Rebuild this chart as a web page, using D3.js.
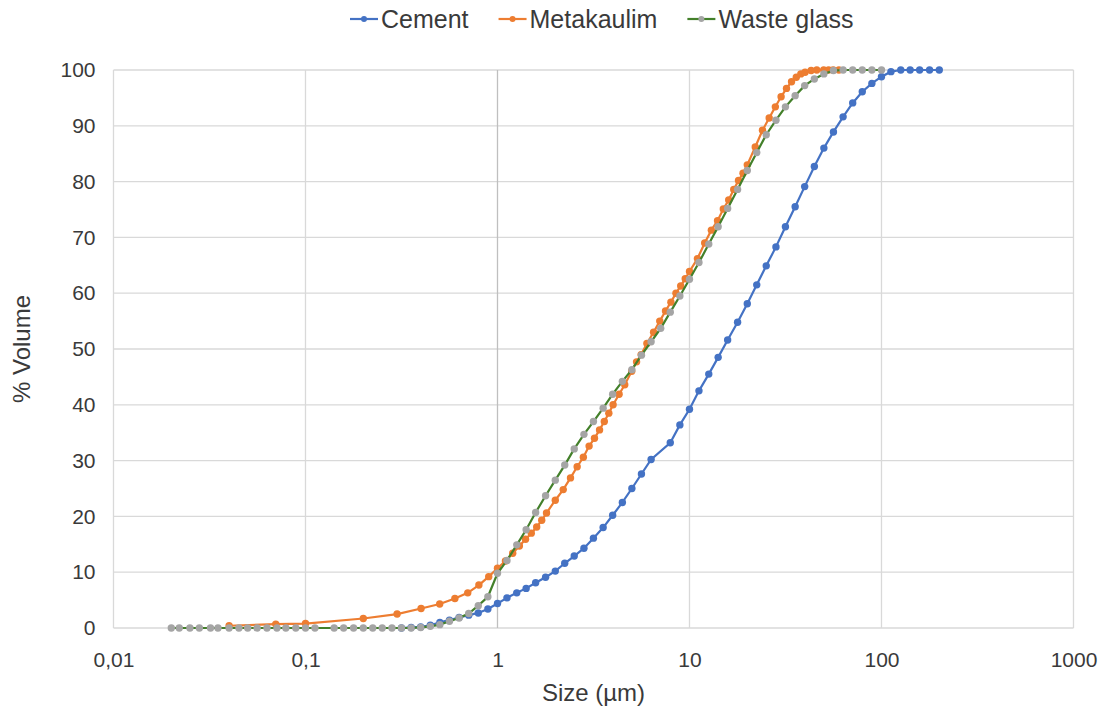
<!DOCTYPE html>
<html>
<head>
<meta charset="utf-8">
<script src="https://cdn.jsdelivr.net/npm/d3@7"></script>
<style>
  body { margin: 0; background: #fff; }
  text { font-family: "Liberation Sans", Arial, sans-serif; fill: #3a3a3a; }
</style>
</head>
<body>
<script>
// particle size (um) and cumulative % volume per material
var cementSize = [0.316, 0.355, 0.398, 0.447, 0.501, 0.562, 0.631, 0.708, 0.794, 0.891,
    1.00, 1.12, 1.26, 1.41, 1.58, 1.78, 2.00, 2.24, 2.51, 2.82, 3.16, 3.55, 3.98, 4.47, 5.01, 5.62, 6.31,
    7.94, 8.91, 10.0, 11.2, 12.6, 14.1, 15.8, 17.8, 20.0, 22.4, 25.1, 28.2, 31.6, 35.5, 39.8, 44.7,
    50.1, 56.2, 63.1, 70.8, 79.4, 89.1, 100, 112, 126, 141, 158, 178, 200];
var cementVol = [0.0, 0.1, 0.2, 0.5, 1.0, 1.4, 1.9, 2.3, 2.7, 3.4,
    4.4, 5.4, 6.3, 7.1, 8.1, 9.1, 10.2, 11.6, 12.9, 14.3, 16.1, 18.0, 20.2, 22.5, 25.0, 27.6, 30.2,
    33.2, 36.4, 39.2, 42.5, 45.5, 48.5, 51.6, 54.8, 58.1, 61.5, 64.9, 68.3, 71.9, 75.5, 79.1, 82.7,
    86.0, 88.9, 91.6, 94.1, 96.1, 97.6, 98.8, 99.7, 100, 100, 100, 100, 100];

var metaSize = [0.04, 0.07, 0.1, 0.2, 0.3, 0.4, 0.5, 0.6, 0.7, 0.8, 0.9,
    1.0, 1.1, 1.2, 1.3, 1.4, 1.5, 1.6, 1.7, 1.8, 2.0, 2.2, 2.4, 2.6, 2.8, 3.0, 3.2, 3.4, 3.6, 3.8,
    4.0, 4.3, 4.6, 5.0, 5.3, 5.6, 6.0, 6.5, 7.0, 7.5, 8.0, 8.5, 9.0, 9.5, 10, 11, 12, 13, 14, 15,
    16, 17, 18, 19, 20, 22, 24, 26, 28, 30, 32, 34, 36, 38, 40, 43, 46, 50, 53, 56, 60];
var metaVol = [0.4, 0.7, 0.8, 1.7, 2.5, 3.5, 4.3, 5.3, 6.3, 7.7, 9.2,
    10.7, 12.0, 13.4, 14.7, 15.9, 17.0, 18.1, 19.3, 20.6, 22.9, 24.8, 26.9, 28.9, 30.6, 32.6, 34.0, 35.5, 37.0, 38.5,
    40.0, 41.9, 43.6, 46.0, 47.7, 49.0, 51.0, 53.0, 55.0, 56.8, 58.4, 60.0, 61.3, 62.6, 63.9, 66.2, 69.0, 71.3, 73.0, 75.1,
    76.7, 78.6, 80.2, 81.5, 83.0, 86.2, 89.2, 91.4, 93.4, 95.2, 96.7, 97.9, 98.7, 99.3, 99.6, 99.9, 100, 100, 100, 100, 100];

var glassSize = [0.020, 0.022, 0.025, 0.028, 0.032, 0.035, 0.040, 0.045, 0.050, 0.056, 0.063, 0.071, 0.079, 0.089, 0.100, 0.112,
    0.141, 0.158, 0.178, 0.200, 0.224, 0.251, 0.282, 0.316, 0.355, 0.398, 0.447, 0.501, 0.562, 0.631, 0.708, 0.794, 0.891,
    1.00, 1.12, 1.26, 1.41, 1.58, 1.78, 2.00, 2.24, 2.51, 2.82, 3.16, 3.55, 3.98, 4.47, 5.01, 5.62, 6.31, 7.08, 7.94, 8.91,
    10.0, 11.2, 12.6, 14.1, 15.8, 17.8, 20.0, 22.4, 25.1, 28.2, 31.6, 35.5, 39.8, 44.7, 50.1, 56.2, 63.1, 70.8, 79.4, 89.1, 100];
var glassVol = [0, 0, 0, 0, 0, 0, 0, 0, 0, 0, 0, 0, 0, 0, 0, 0,
    0, 0, 0, 0, 0, 0, 0, 0, 0, 0.1, 0.3, 0.6, 1.2, 1.8, 2.6, 4.0, 5.6,
    9.8, 12.1, 14.9, 17.6, 20.7, 23.7, 26.5, 29.2, 32.1, 34.7, 37.0, 39.4, 41.9, 44.2, 46.3, 48.9, 51.3, 53.7, 56.6, 59.5,
    62.5, 65.5, 68.8, 71.9, 75.2, 78.6, 82.0, 85.2, 88.4, 91.0, 93.4, 95.4, 97.2, 98.4, 99.3, 99.9, 100, 100, 100, 100, 100];

var xTicks = [0.01, 0.1, 1, 10, 100, 1000];
var xTickLabels = ["0,01", "0,1", "1", "10", "100", "1000"];
var yTicks = [0, 10, 20, 30, 40, 50, 60, 70, 80, 90, 100];

var series = [
    {name: "Cement", size: cementSize, vol: cementVol, line: "#4472c4", dot: "#4472c4"},
    {name: "Metakaulim", size: metaSize, vol: metaVol, line: "#ed7d31", dot: "#ed7d31"},
    {name: "Waste glass", size: glassSize, vol: glassVol, line: "#43802a", dot: "#a5a5a5"}
];

var W = 1105, H = 717;
var margin = {top: 70, right: 31.5, bottom: 89, left: 113.5};

var svg = d3.select("body").append("svg")
    .attr("width", W)
    .attr("height", H);

var x = d3.scaleLog()
    .domain([0.01, 1000])
    .range([margin.left, W - margin.right]);
var y = d3.scaleLinear()
    .domain([0, 100])
    .range([H - margin.bottom, margin.top]);

// grid
svg.append("g").selectAll("line.h")
    .data(yTicks).enter()
    .append("line")
    .attr("x1", x(0.01)).attr("x2", x(1000))
    .attr("y1", function (d) { return y(d); })
    .attr("y2", function (d) { return y(d); })
    .attr("stroke", "#d9d9d9")
    .attr("stroke-width", 1.3);
svg.append("g").selectAll("line.v")
    .data(xTicks).enter()
    .append("line")
    .attr("x1", function (d) { return x(d); })
    .attr("x2", function (d) { return x(d); })
    .attr("y1", y(0)).attr("y2", y(100))
    .attr("stroke", function (d) { return d === 1 ? "#bfbfbf" : "#d9d9d9"; })
    .attr("stroke-width", 1.3);

// axes (labels only)
var xAxis = d3.axisBottom(x)
    .tickValues(xTicks)
    .tickSize(0)
    .tickPadding(24)
    .tickFormat(function (d, i) { return xTickLabels[i]; });
var yAxis = d3.axisLeft(y)
    .tickValues(yTicks)
    .tickSize(0)
    .tickPadding(18);

var gx = svg.append("g")
    .attr("transform", "translate(0," + y(0) + ")")
    .call(xAxis);
var gy = svg.append("g")
    .attr("transform", "translate(" + x(0.01) + ",0)")
    .call(yAxis);
[gx, gy].forEach(function (g) {
    g.select(".domain").remove();
    g.selectAll("text")
        .attr("fill", "#3a3a3a")
        .style("font-size", "21px")
        .style("font-family", "'Liberation Sans', Arial, sans-serif");
});

// series
var line = d3.line()
    .x(function (d) { return x(d[0]); })
    .y(function (d) { return y(d[1]); });

series.forEach(function (s) {
    var pts = s.size.map(function (v, i) { return [v, s.vol[i]]; });
    var g = svg.append("g").attr("class", "series");
    g.append("path")
        .datum(pts)
        .attr("d", line)
        .attr("fill", "none")
        .attr("stroke", s.line)
        .attr("stroke-width", 2.2);
    g.selectAll("circle")
        .data(pts).enter()
        .append("circle")
        .attr("cx", function (d) { return x(d[0]); })
        .attr("cy", function (d) { return y(d[1]); })
        .attr("r", 3.7)
        .attr("fill", s.dot);
});

// axis titles
svg.append("text")
    .attr("x", (x(0.01) + x(1000)) / 2)
    .attr("y", 701)
    .attr("text-anchor", "middle")
    .style("font-size", "24px")
    .text("Size (µm)");
svg.append("text")
    .attr("transform", "translate(30," + ((y(0) + y(100)) / 2) + ") rotate(-90)")
    .attr("text-anchor", "middle")
    .style("font-size", "24px")
    .text("% Volume");

// legend
var legend = svg.append("g");
var lx = 350;
series.forEach(function (s) {
    var it = legend.append("g").attr("transform", "translate(" + lx + ",19)");
    it.append("line")
        .attr("x1", 0).attr("x2", 28)
        .attr("stroke", s.line).attr("stroke-width", 2.2);
    it.append("circle")
        .attr("cx", 14).attr("r", 3).attr("fill", s.dot);
    var t = it.append("text")
        .attr("x", 31).attr("dy", "0.35em")
        .style("font-size", "25px")
        .text(s.name);
    lx += 31 + t.node().getComputedTextLength() + 30;
});
</script>
</body>
</html>
